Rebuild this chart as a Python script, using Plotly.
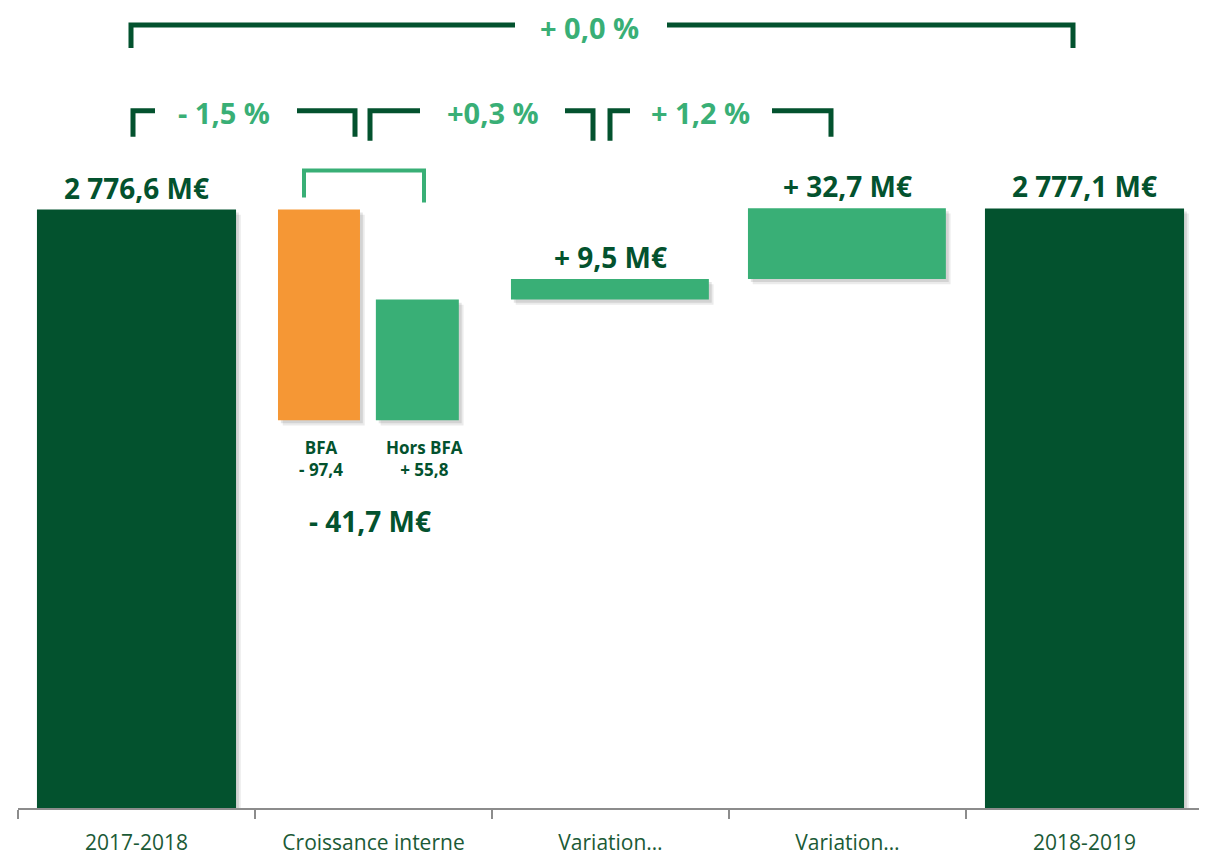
import plotly.graph_objects as go

DARK_GREEN = "#03522E"
LIGHT_GREEN = "#39AF76"
ORANGE = "#F59735"
AXIS_GREY = "#8C8C8C"
FONT = "Open Sans"

# data
categories = ["2017-2018", "Croissance interne", "Variation…", "Variation…", "2018-2019"]
start_value = 2776.6
bfa_value = -97.4
hors_bfa_value = 55.8
variation_1 = 9.5
variation_2 = 32.7
end_value = 2777.1
internal_growth = -41.7
pct_total = "+ 0,0 %"
pct_steps = ["- 1,5 %", "+0,3 %", "+ 1,2 %"]

# running levels of the bridge
level_after_bfa = start_value + bfa_value
level_after_growth = level_after_bfa + hors_bfa_value
level_after_var1 = level_after_growth + variation_1

# the page puts the figure 8px in from the top-left corner
PAGE_OFFSET = 8
FIG_W, FIG_H = 1207 - PAGE_OFFSET, 856 - PAGE_OFFSET
PLOT_LEFT, PLOT_RIGHT = 18, 1203      # screen pixels
PLOT_TOP, PLOT_BOTTOM = 8, 810
Y_MIN = 2500
Y_MAX = Y_MIN + (PLOT_BOTTOM - PLOT_TOP) / 2.1692


def px(x):
    # screen x pixel -> x data coordinate
    return (x - PLOT_LEFT) / ((PLOT_RIGHT - PLOT_LEFT) / len(categories)) - 0.5


def py(y):
    # screen y pixel -> paper coordinate
    return (PLOT_BOTTOM - y) / (PLOT_BOTTOM - PLOT_TOP)


def fmt(v):
    return f"{abs(v):,.1f}".replace(",", " ").replace(".", ",")


fig = go.Figure()

bars = [
    # x, base, y, color, width, offset
    (0, 0, start_value, DARK_GREEN, 0.84, -0.42),
    (1, start_value, bfa_value, ORANGE, 0.346, -0.403),
    (1, level_after_bfa, hors_bfa_value, LIGHT_GREEN, 0.35, 0.01),
    (2, level_after_growth, variation_1, LIGHT_GREEN, 0.835, -0.42),
    (3, level_after_var1, variation_2, LIGHT_GREEN, 0.835, -0.42),
    (4, 0, end_value, DARK_GREEN, 0.84, -0.42),
]

# soft drop shadow
for x, base, y, color, w, off in bars:
    for shift, alpha in ((0.02, 0.08), (0.012, 0.10)):
        fig.add_trace(
            go.Bar(
                x=[x], y=[y], base=[base - shift * 120],
                width=[w], offset=[off + shift],
                marker=dict(color=f"rgba(0,0,0,{alpha})", line_width=0),
                hoverinfo="skip", showlegend=False,
            )
        )

for x, base, y, color, w, off in bars:
    fig.add_trace(
        go.Bar(
            x=[x], y=[y], base=[base], width=[w], offset=[off],
            marker=dict(color=color, line_width=0), showlegend=False,
        )
    )

value_font = dict(family=FONT, size=28, color=DARK_GREEN, weight="bold")
pct_font = dict(family=FONT, size=29, color=LIGHT_GREEN, weight="bold")
small_font = dict(family=FONT, size=17, color=DARK_GREEN, weight="bold")

# labels on top of the bars
top_labels = [
    (0, start_value, f"{fmt(start_value)} M€"),
    (2, level_after_growth + variation_1, f"+ {fmt(variation_1)} M€"),
    (3, level_after_var1 + variation_2, f"+ {fmt(variation_2)} M€"),
    (4, end_value, f"{fmt(end_value)} M€"),
]
for x, y, text in top_labels:
    fig.add_annotation(
        x=x, y=y, text=text, showarrow=False, yanchor="bottom", yshift=1,
        font=value_font,
    )

fig.add_annotation(
    x=px(321), y=py(460), yref="paper", yanchor="middle",
    text=f"BFA<br>- {fmt(bfa_value)}", showarrow=False, font=small_font,
)
fig.add_annotation(
    x=px(424), y=py(460), yref="paper", yanchor="middle",
    text=f"Hors BFA<br>+ {fmt(hors_bfa_value)}", showarrow=False, font=small_font,
)
fig.add_annotation(
    x=px(370), y=py(522), yref="paper", yanchor="middle",
    text=f"- {fmt(internal_growth)} M€", showarrow=False, font=value_font,
)


def segment(path, color, width):
    fig.add_shape(
        type="path", path=path, xref="x", yref="paper",
        line=dict(color=color, width=width), layer="above",
    )


def bracket(x0, x1, y_line, y_left, y_right, color, gap=None, width=5):
    yl, ya, yb = py(y_line), py(y_left), py(y_right)
    if gap is None:
        segment(f"M {px(x0)},{ya} L {px(x0)},{yl} L {px(x1)},{yl} L {px(x1)},{yb}", color, width)
    else:
        g0, g1 = gap
        segment(f"M {px(x0)},{ya} L {px(x0)},{yl} L {px(g0)},{yl}", color, width)
        segment(f"M {px(g1)},{yl} L {px(x1)},{yl} L {px(x1)},{yb}", color, width)


bracket(131, 1073, 25, 48, 48, DARK_GREEN, gap=(515, 667))
bracket(133, 355, 111, 137, 137, DARK_GREEN, gap=(155, 297))
bracket(370, 593, 111, 141, 141, DARK_GREEN, gap=(420, 565))
bracket(610, 831, 111, 141, 137, DARK_GREEN, gap=(630, 772))
bracket(304, 424, 171, 198, 203, LIGHT_GREEN, width=4)

pct_labels = [
    (589, 28, pct_total),
    (224, 113, pct_steps[0]),
    (493, 113, pct_steps[1]),
    (700, 113, pct_steps[2]),
]
for x, y, text in pct_labels:
    fig.add_annotation(
        x=px(x), y=py(y), yref="paper", yanchor="middle", text=text,
        showarrow=False, font=pct_font, borderpad=0,
    )

fig.update_layout(
    width=FIG_W,
    height=FIG_H,
    margin=dict(
        l=PLOT_LEFT - PAGE_OFFSET,
        r=FIG_W - (PLOT_RIGHT - PAGE_OFFSET),
        t=PLOT_TOP - PAGE_OFFSET,
        b=FIG_H - (PLOT_BOTTOM - PAGE_OFFSET),
    ),
    barmode="overlay",
    plot_bgcolor="white",
    paper_bgcolor="white",
    showlegend=False,
    font=dict(family=FONT),
)
fig.update_xaxes(
    range=[-0.5, 4.5],
    tickmode="array",
    tickvals=list(range(len(categories))),
    ticktext=categories,
    ticks="",
    ticklabelstandoff=15,
    tickfont=dict(family=FONT, size=21, color="#1B5A36"),
    showline=True,
    linecolor=AXIS_GREY,
    linewidth=2,
    showgrid=False,
    zeroline=False,
    minor=dict(
        tickmode="array",
        tickvals=[i - 0.5 for i in range(len(categories) + 1)],
        ticks="outside",
        ticklen=9,
        tickcolor=AXIS_GREY,
        tickwidth=1.5,
        showgrid=False,
    ),
)
fig.update_yaxes(range=[Y_MIN, Y_MAX], visible=False)

fig.write_html("out.html")
